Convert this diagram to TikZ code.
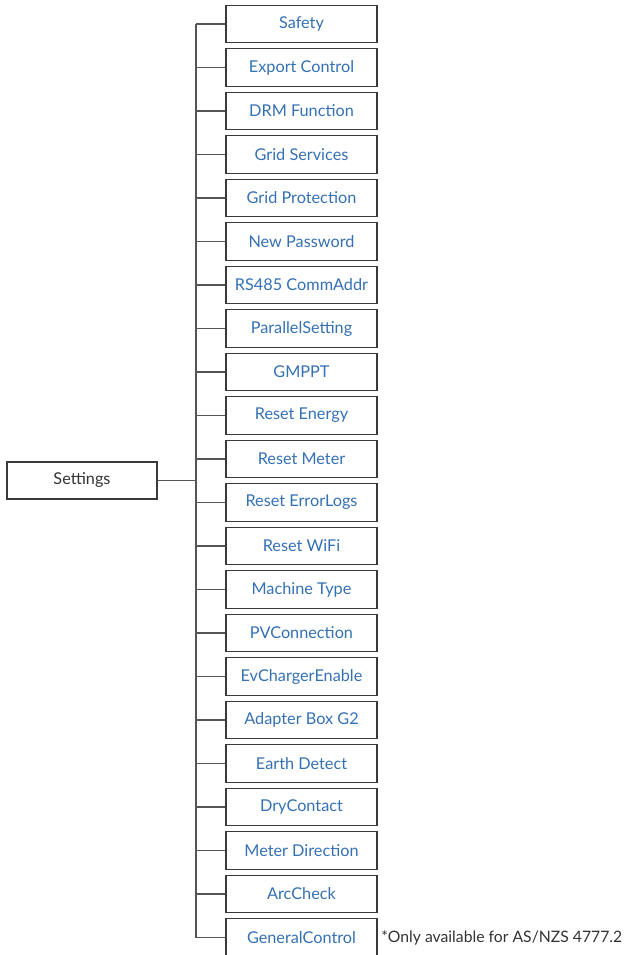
\documentclass[tikz,border=0pt]{standalone}
\usepackage{fontspec}
\setmainfont{Lato}
\definecolor{itemblue}{HTML}{3470B4}
\definecolor{linegray}{HTML}{555555}
\definecolor{boxgray}{HTML}{3A3A3A}
\definecolor{textgray}{HTML}{333333}
\begin{document}
\begin{tikzpicture}[x=0.75pt,y=-0.75pt,
  itembox/.style={draw=boxgray,line width=1pt,minimum width=113.25pt,minimum height=28.1pt,inner sep=0pt,text=itemblue,font=\fontsize{12.2}{14}\selectfont},
  rootbox/.style={draw=boxgray,line width=1pt,minimum width=112.5pt,minimum height=27.75pt,inner sep=0pt,text=textgray,font=\fontsize{12.2}{14}\selectfont},
  conn/.style={draw=linegray,line width=1pt}]
\useasboundingbox (0,0) rectangle (628,955);
\clip (0,0) rectangle (628,955);
\node[rootbox] (settings) at (82,480.5) {Settings};
\foreach \t [count=\i from 0] in {Safety,Export Control,DRM Function,Grid Services,Grid Protection,New Password,RS485 CommAddr,ParallelSetting,GMPPT,Reset Energy,Reset Meter,Reset ErrorLogs,Reset WiFi,Machine Type,PVConnection,EvChargerEnable,Adapter Box G2,Earth Detect,DryContact,Meter Direction,ArcCheck,GeneralControl}{
  \node[itembox] (b\i) at (301.5,{24+43.5*\i}) {\t};
  \coordinate (t\i) at (196,{24+43.5*\i});
  \draw[conn] (t\i) -- (b\i.west);
}
\draw[conn] (t0) -- (t21);
\draw[conn] (settings.east) -- (settings.east -| t0);
\node[anchor=west,inner sep=0pt,text=textgray,font=\fontsize{11.8}{14}\selectfont] (note) at (381,937.5) {*Only available for AS/NZS 4777.2};
\end{tikzpicture}
\end{document}
